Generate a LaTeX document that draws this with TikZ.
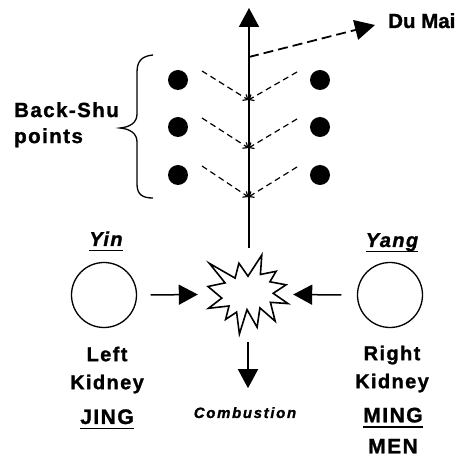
\documentclass[tikz,border=0pt]{standalone}
\usepackage{fontspec}
\setmainfont{Liberation Sans}
\newfontfamily\wsp{Liberation Sans}[LetterSpace=7, BoldFeatures={FakeBold=1.3}, BoldItalicFeatures={FakeBold=1.3}]
\newfontfamily\wspc{Liberation Sans}[LetterSpace=11, BoldItalicFeatures={FakeBold=1.2}]
\newfontfamily\wspn{Liberation Sans}[LetterSpace=0, BoldFeatures={FakeBold=1.3}]
\usetikzlibrary{arrows.meta,calc}
\newcommand\myul[1]{\setbox0=\hbox{#1}\rlap{\rule[-5.5pt]{\wd0}{1.8pt}}\box0}
\tikzset{
  txt/.style={inner sep=0pt, align=center, font=\wsp\bfseries\fontsize{20}{28}\selectfont},
  bigtxt/.style={inner sep=0pt, align=center, font=\wsp\bfseries\fontsize{21}{31}\selectfont},
  kid/.style={circle, draw, line width=1.3pt, minimum size=65pt, inner sep=0pt},
  dot/.style={circle, fill, minimum size=20pt, inner sep=0pt},
  arr/.style={line width=1.5pt, -{Triangle[length=19pt,width=20pt]}},
  chev/.style={line width=1.2pt, dash pattern=on 6pt off 4pt, -{Straight Barb[length=4pt,width=7pt]}},
}
\begin{document}
\begin{tikzpicture}[x=1pt,y=-1pt]
\useasboundingbox (0,0) rectangle (467,457);

% spine
\coordinate (bot) at (249,248);
\coordinate (top) at (249,8);
\draw[line width=1.8pt, -{Triangle[length=19pt,width=20pt]}] (bot) -- (top);

% Du Mai
\coordinate (dm0) at (249,57);
\coordinate (dmtip) at (375,25);
\node[inner sep=0pt, anchor=base west, font=\wspn\bfseries\fontsize{20.5}{28}\selectfont] (dumai) at (388,28) {Du Mai};
\draw[line width=1.8pt, dash pattern=on 10pt off 5pt, -{Triangle[length=20pt,width=20pt]}] (dm0) -- (dmtip);

% dots
\node[dot] (l1) at (178,80) {};
\node[dot] (l2) at (178,127) {};
\node[dot] (l3) at (178,175) {};
\node[dot] (r1) at (320,80) {};
\node[dot] (r2) at (320,127) {};
\node[dot] (r3) at (320,175) {};
\coordinate (j1) at (248.5,100);
\coordinate (j2) at (248.5,148);
\coordinate (j3) at (248.5,197);
\foreach \i in {1,2,3}{
  \draw[chev] ([shift={(24,-9)}]l\i.center) -- (j\i);
  \draw[chev] ([shift={(-23,-8)}]r\i.center) -- (j\i);
}

% brace and label
\draw[line width=1.3pt] (153,55) .. controls (143,56) and (137,60) .. (137,72) -- (137,114)
  .. controls (137,122) and (131,127) .. (120,128)
  .. controls (131,129) and (137,134) .. (137,142) -- (137,184)
  .. controls (137,195) and (143,198) .. (153,198);
\node[txt, align=left, anchor=north west, font=\wsp\bfseries\fontsize{20.5}{26}\selectfont] (bs) at (14,102) {Back-Shu\\points};

% burst
\node[minimum width=80pt, minimum height=79pt, inner sep=0pt] (burst) at (248,294.5) {};
\draw[line width=1.6pt, line join=miter] (248.0,276.2) -- (261.8,255) -- (260.4,274.5) -- (276.1,271.3) -- (269.9,281.8)
  -- (286.1,284.8) -- (273.2,293.3) -- (288,303.6) -- (270.4,302.3) -- (275.2,321.2) -- (259.9,307.9)
  -- (257.1,327.2) -- (247.0,309.6) -- (239.4,334) -- (236.6,312.1) -- (225.6,319.4) -- (229.0,306.0)
  -- (208.5,308.3) -- (221.8,298.1) -- (208,286.5) -- (225.1,282.9) -- (209.4,263.4) -- (235.1,278.1)
  -- (238.9,263.2) -- cycle;

% kidneys
\node[kid] (lk) at (104,295) {};
\node[kid] (rk) at (390,295) {};
\node[txt, anchor=base] (yin) at (106,246) {\myul{\itshape Yin}};
\node[txt, anchor=base] (yang) at (392,247) {\myul{\itshape Yang}};
\node[txt, anchor=north] (ltxt) at (107,346.5) {Left\\Kidney};
\node[txt, anchor=north] (rtxt) at (392,345.5) {Right\\Kidney};
\node[bigtxt, anchor=base] (jing) at (107,424) {\myul{JING}};
\node[bigtxt, anchor=north] (ming) at (393,407.5) {\myul{MING}\\\myul{MEN}};
\node[inner sep=0pt, anchor=base, font=\wspc\bfseries\itshape\fontsize{15}{18}\selectfont] (comb) at (245,418) {Combustion};

% arrows
\draw[arr] ([xshift=13.5pt]lk.east) -- ([xshift=-10pt]burst.west);
\draw[arr] ([xshift=-15.5pt]rk.west) -- ([xshift=5pt]burst.east);
\draw[arr] ([shift={(0,8)}]burst.south) -- ([shift={(0,54)}]burst.south);
\end{tikzpicture}
\end{document}
